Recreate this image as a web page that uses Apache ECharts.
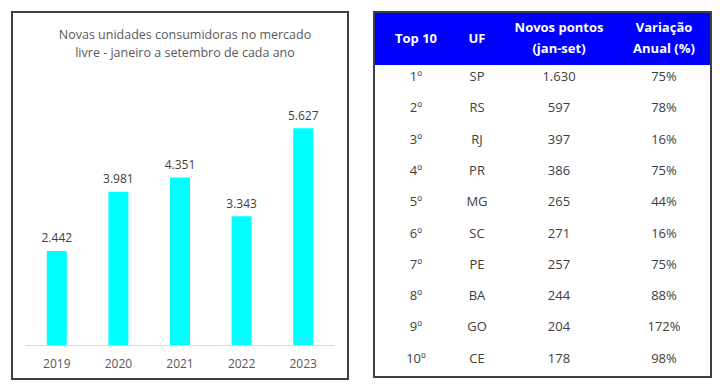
<!DOCTYPE html>
<html><head><meta charset="utf-8">
<script src="https://cdn.jsdelivr.net/npm/echarts@6/dist/echarts.min.js"></script>
<style>html,body{margin:0;padding:0;background:#fff}#c{width:724px;height:391px}</style>
</head><body><div id="c"></div>
<script>
// Left chart data
const years = ['2019','2020','2021','2022','2023'];
const novasUnidades = [2442, 3981, 4351, 3343, 5627];
const chartTitle = 'Novas unidades consumidoras no mercado\nlivre - janeiro a setembro de cada ano';

// Right table data
const tableHeaders = ['Top 10', 'UF', 'Novos pontos\n(jan-set)', 'Variação\nAnual (%)'];
const ranks = ['1º','2º','3º','4º','5º','6º','7º','8º','9º','10º'];
const ufs = ['SP','RS','RJ','PR','MG','SC','PE','BA','GO','CE'];
const novosPontos = [1630, 597, 397, 386, 265, 271, 257, 244, 204, 178];
const variacaoAnual = [75, 78, 16, 75, 44, 16, 75, 88, 172, 98];

const fmt = v => v.toLocaleString('de-DE');
const FONT = '"Open Sans", sans-serif';

const chart = echarts.init(document.getElementById('c'), null, {renderer: 'svg'});

// table layout
const tX0 = 374, tX1 = 711, tY0 = 12, tY1 = 377, headH = 53;
const colX = [416, 477, 559, 664];
const rowY0 = 76, rowStep = 31.3;

const graphics = [];
// left frame
graphics.push({type:'rect', shape:{x:12, y:12, width:336, height:367}, style:{fill:null, stroke:'#404040', lineWidth:2}, z:-1});
// table header bg
graphics.push({type:'rect', shape:{x:tX0, y:tY0, width:tX1-tX0, height:headH}, style:{fill:'#0000FF'}});
// table frame
graphics.push({type:'rect', shape:{x:tX0, y:tY0, width:tX1-tX0, height:tY1-tY0}, style:{fill:null, stroke:'#404040', lineWidth:2}});
tableHeaders.forEach((h, i) => {
  graphics.push({type:'text', x:colX[i], y:tY0 + headH/2 - 1, style:{text:h, fill:'#fff', font:'bold 13px ' + FONT, align:'center', verticalAlign:'middle', lineHeight:21}});
});
ranks.forEach((r, k) => {
  const y = rowY0 + k*rowStep;
  const cells = [r, ufs[k], fmt(novosPontos[k]), variacaoAnual[k] + '%'];
  cells.forEach((c, i) => {
    graphics.push({type:'text', x:colX[i], y:y, style:{text:c, fill:'#404040', font:'13px ' + FONT, align:'center', verticalAlign:'middle'}});
  });
});

chart.setOption({
  animation: false,
  title: {
    text: chartTitle, left: 180, textAlign: 'center', top: 20,
    textStyle: {fontFamily: FONT, fontSize: 12.5, fontWeight: 'normal', color: '#595959', lineHeight: 18}
  },
  grid: {left: 26, width: 308, top: 114, height: 231},
  xAxis: {
    type: 'category', data: years,
    axisLine: {lineStyle: {color: '#d9d9d9', width: 1}},
    axisTick: {show: false},
    axisLabel: {fontFamily: FONT, fontSize: 12, color: '#595959', margin: 12}
  },
  yAxis: {type: 'value', min: 0, max: 6000, show: false, splitLine: {show: false}},
  series: [{
    type: 'bar', data: novasUnidades, barWidth: 20,
    itemStyle: {color: '#00FFFF'},
    label: {show: true, position: 'top', distance: 7, formatter: p => fmt(p.value), fontFamily: FONT, fontSize: 12, color: '#404040'}
  }],
  graphic: graphics
});
</script></body></html>
